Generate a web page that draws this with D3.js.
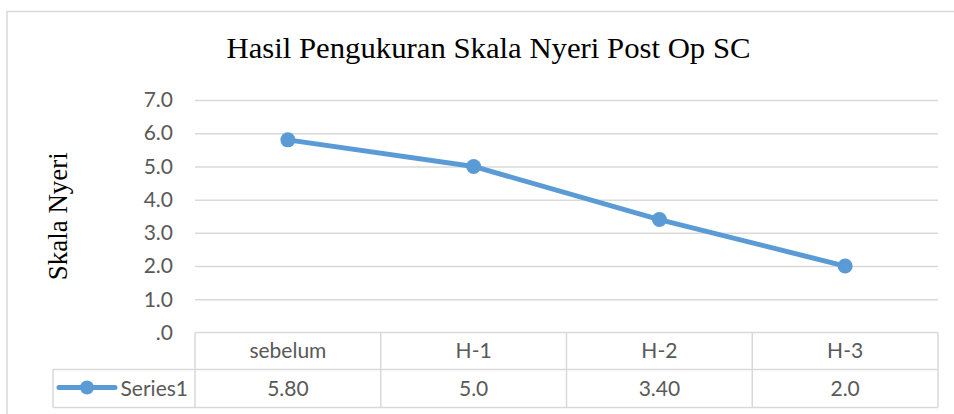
<!DOCTYPE html>
<html>
<head>
<meta charset="utf-8">
<script src="https://cdn.jsdelivr.net/npm/d3@7"></script>
<style>
  html, body { margin: 0; padding: 0; background: #ffffff; }
  svg { display: block; }
</style>
</head>
<body>
<svg id="chart" width="954" height="414"></svg>
<script>
const title = "Hasil Pengukuran Skala Nyeri Post Op SC";
const yAxisTitle = "Skala Nyeri";
const seriesName = "Series1";
const categories = ["sebelum", "H-1", "H-2", "H-3"];
const values = [5.8, 5.0, 3.4, 2.0];
const valueLabels = ["5.80", "5.0", "3.40", "2.0"];
const yTicks = [0, 1, 2, 3, 4, 5, 6, 7];
const yTickLabels = [".0", "1.0", "2.0", "3.0", "4.0", "5.0", "6.0", "7.0"];

const svg = d3.select("#chart");
const gridColor = "#d9d9d9";
const textColor = "#595959";
const lineColor = "#5b9bd5";
const sansFont = "Lato, 'Liberation Sans', sans-serif";

const plot = { left: 195, right: 938, top: 100, bottom: 332.5 };
const tableRow1 = 369.5, tableBottom = 407.5, legendLeft = 53;

// outer chart border
svg.append("rect")
  .attr("x", 7).attr("y", 11.5)
  .attr("width", 980).attr("height", 440)
  .attr("fill", "none").attr("stroke", gridColor).attr("stroke-width", 1.5);

const x = d3.scaleBand().domain(categories).range([plot.left, plot.right]);
const y = d3.scaleLinear().domain([0, 7]).range([plot.bottom, plot.top]);

// title
svg.append("text")
  .attr("x", 488.5).attr("y", 58)
  .attr("text-anchor", "middle")
  .attr("font-family", "'Liberation Serif', 'DejaVu Serif', serif")
  .attr("font-size", 29)
  .attr("textLength", 524).attr("lengthAdjust", "spacingAndGlyphs")
  .attr("fill", "#000")
  .text(title);

// y axis title
svg.append("text")
  .attr("transform", `translate(67, ${(plot.top + plot.bottom) / 2}) rotate(-90)`)
  .attr("text-anchor", "middle")
  .attr("font-family", "'Liberation Serif', serif")
  .attr("font-size", 27)
  .attr("fill", "#000")
  .text(yAxisTitle);

// gridlines + y axis labels
const yAxis = d3.axisLeft(y)
  .tickValues(yTicks)
  .tickFormat((d, i) => yTickLabels[i])
  .tickSize(-(plot.right - plot.left))
  .tickPadding(22);
const gy = svg.append("g")
  .attr("transform", `translate(${plot.left},0)`)
  .call(yAxis);
gy.select(".domain").remove();
gy.selectAll(".tick line")
  .attr("stroke", gridColor).attr("stroke-width", 1.5)
  .filter(d => d === 0).remove();
gy.selectAll(".tick text")
  .attr("fill", textColor)
  .attr("font-family", sansFont)
  .attr("font-size", 21);

// data table grid
const tbl = svg.append("g").attr("stroke", gridColor).attr("stroke-width", 1.5).attr("fill", "none");
tbl.append("line").attr("x1", plot.left).attr("x2", plot.right).attr("y1", plot.bottom).attr("y2", plot.bottom);
tbl.append("line").attr("x1", legendLeft).attr("x2", plot.right).attr("y1", tableRow1).attr("y2", tableRow1);
tbl.append("line").attr("x1", legendLeft).attr("x2", plot.right).attr("y1", tableBottom).attr("y2", tableBottom);
tbl.append("line").attr("x1", legendLeft).attr("x2", legendLeft).attr("y1", tableRow1).attr("y2", tableBottom);
const colEdges = categories.map(c => x(c)).concat([plot.right]);
tbl.selectAll("line.col").data(colEdges).join("line").attr("class", "col")
  .attr("x1", d => d).attr("x2", d => d)
  .attr("y1", plot.bottom).attr("y2", tableBottom);

// category labels
svg.append("g").selectAll("text").data(categories).join("text")
  .attr("x", d => x(d) + x.bandwidth() / 2)
  .attr("y", (plot.bottom + tableRow1) / 2)
  .attr("dy", "0.35em")
  .attr("text-anchor", "middle")
  .attr("font-family", sansFont).attr("font-size", 21)
  .attr("fill", textColor)
  .text(d => d);

// value labels
svg.append("g").selectAll("text").data(valueLabels).join("text")
  .attr("x", (d, i) => x(categories[i]) + x.bandwidth() / 2)
  .attr("y", (tableRow1 + tableBottom) / 2)
  .attr("dy", "0.35em")
  .attr("text-anchor", "middle")
  .attr("font-family", sansFont).attr("font-size", 21)
  .attr("fill", textColor)
  .text(d => d);

// legend key in table
const legY = (tableRow1 + tableBottom) / 2 - 1;
svg.append("line")
  .attr("x1", 59).attr("x2", 115).attr("y1", legY).attr("y2", legY)
  .attr("stroke", lineColor).attr("stroke-width", 5).attr("stroke-linecap", "round");
svg.append("circle")
  .attr("cx", 87).attr("cy", legY).attr("r", 7).attr("fill", lineColor);
svg.append("text")
  .attr("x", 188).attr("y", (tableRow1 + tableBottom) / 2)
  .attr("dy", "0.35em")
  .attr("text-anchor", "end")
  .attr("font-family", sansFont).attr("font-size", 21)
  .attr("fill", textColor)
  .text(seriesName);

// line + markers
const pts = categories.map((c, i) => [x(c) + x.bandwidth() / 2, y(values[i])]);
svg.append("path")
  .attr("d", d3.line()(pts))
  .attr("fill", "none").attr("stroke", lineColor)
  .attr("stroke-width", 5).attr("stroke-linejoin", "round").attr("stroke-linecap", "round");
svg.append("g").selectAll("circle").data(pts).join("circle")
  .attr("cx", d => d[0]).attr("cy", d => d[1])
  .attr("r", 7.5).attr("fill", lineColor);
</script>
</body>
</html>
